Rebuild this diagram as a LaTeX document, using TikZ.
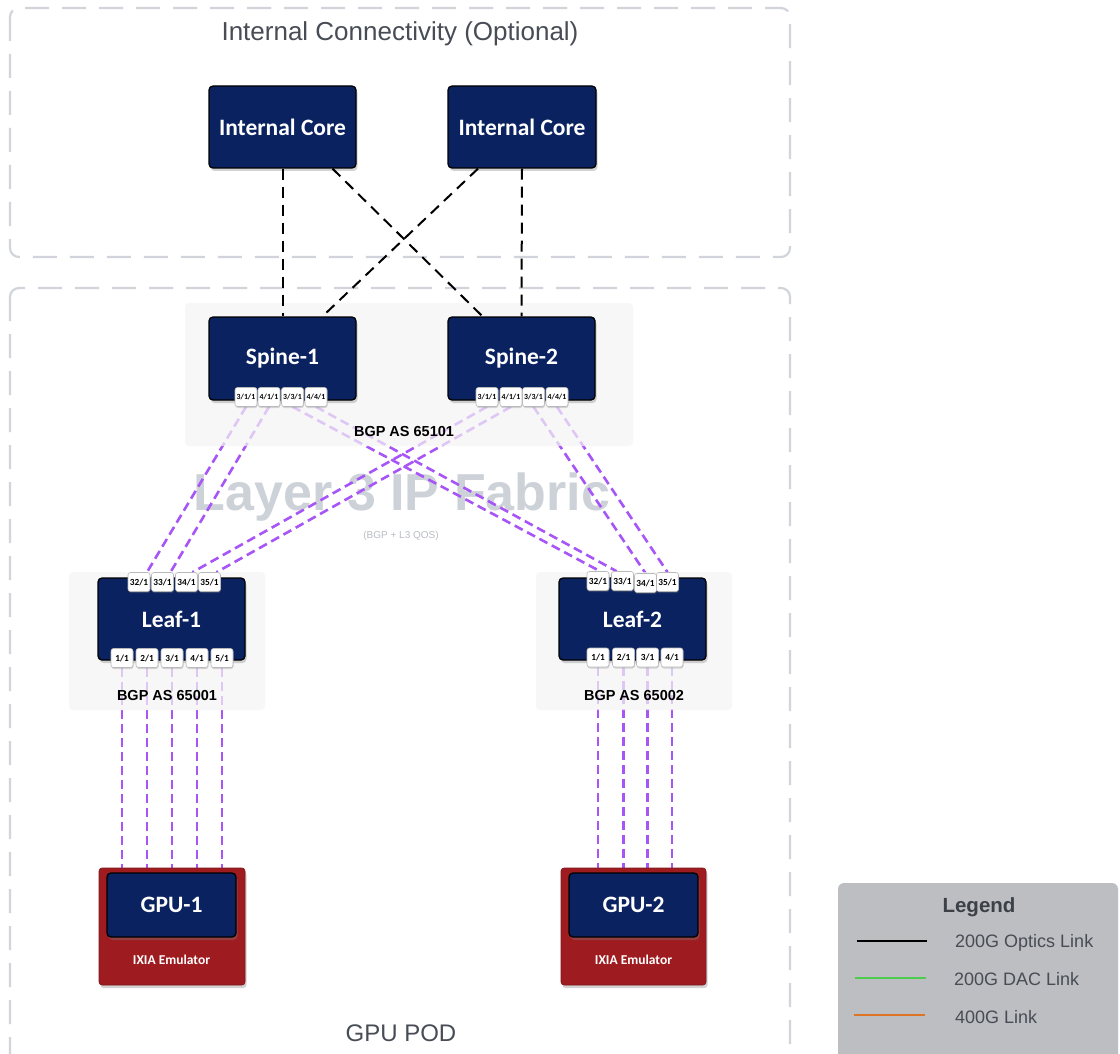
\documentclass[tikz,border=0pt]{standalone}
\usepackage{fontspec}
\setmainfont{Liberation Sans}
\newfontfamily\cfont{Carlito}
\usetikzlibrary{shadows}
\definecolor{navy}{HTML}{0A2260}
\definecolor{gpured}{HTML}{9E1B20}
\definecolor{purp}{HTML}{A855F7}
\definecolor{frame}{HTML}{D1D5DB}
\definecolor{txtgray}{HTML}{474C55}
\definecolor{fabgray}{HTML}{CDD2D9}
\definecolor{panel}{HTML}{F4F4F4}
\definecolor{legbg}{HTML}{BDBEC2}
\definecolor{leggreen}{HTML}{4CCB4C}
\definecolor{legorange}{HTML}{DD7426}
\pgfdeclarelayer{bg}
\pgfdeclarelayer{links}
\pgfdeclarelayer{panels}
\pgfsetlayers{bg,links,panels,main}
\tikzset{
  device/.style={draw=black, line width=1.3pt, fill=navy, rounded corners=4pt, text=white,
    font=\cfont\bfseries\fontsize{23.5}{27}\selectfont, inner sep=0pt,
    drop shadow={shadow xshift=1.5pt, shadow yshift=-3pt, opacity=0.35}},
  port/.style={draw=gray!55, line width=0.6pt, fill=white, rounded corners=2.5pt,
    minimum width=22pt, minimum height=19pt, inner sep=0pt,
    font=\cfont\bfseries\fontsize{7.8}{8}\selectfont,
    drop shadow={shadow xshift=0.5pt, shadow yshift=-1.5pt, opacity=0.3}},
  lport/.style={port, font=\cfont\bfseries\fontsize{9.3}{10}\selectfont},
  container/.style={draw=frame, line width=2.2pt, rounded corners=9pt, dash pattern=on 24pt off 13pt},
  link/.style={draw=purp, line width=2.6pt, dash pattern=on 9pt off 5pt},
  corelink/.style={draw=black, line width=2pt, dash pattern=on 11pt off 7pt},
  panelbox/.style={fill=panel, fill opacity=0.72, draw=none, rounded corners=4pt},
  bgplabel/.style={font=\bfseries\fontsize{14.5}{16}\selectfont, text=black},
  gpubox/.style={fill=gpured, draw=gpured!80!black, line width=0.6pt, rounded corners=3pt,
    drop shadow={shadow xshift=1.5pt, shadow yshift=-3pt, opacity=0.35}},
  legtext/.style={anchor=west, font=\fontsize{18}{21}\selectfont, text=txtgray, inner sep=0pt}
}
\begin{document}
\begin{tikzpicture}[x=1pt,y=-1pt]
\useasboundingbox (0,0) rectangle (1120,1054);

% ---------- background layer ----------
\begin{pgfonlayer}{bg}
  \fill[white] (0,0) rectangle (1120,1054);
  \draw[container] (10,8) rectangle (790,257);
  \draw[container] (10,288) rectangle (790,1080);
  \node[font=\fontsize{26}{30}\selectfont, text=txtgray] (ttl) at (400,34) {Internal Connectivity (Optional)};
  \node[font=\fontsize{24}{28}\selectfont, text=txtgray] (pod) at (401,1033) {GPU POD};
  \node[font=\bfseries\fontsize{52}{60}\selectfont, text=fabgray] (fab) at (402,497) {Layer 3 IP Fabric};
  \node[font=\fontsize{10}{12}\selectfont, text=fabgray!90!black] (qos) at (401,536) {(BGP + L3 QOS)};
\end{pgfonlayer}

% ---------- panels ----------
\begin{pgfonlayer}{panels}
  \path[panelbox] (185,303) rectangle (633,446);
  \path[panelbox] (69,572) rectangle (265,710);
  \path[panelbox] (536,572) rectangle (732,710);
\end{pgfonlayer}

% ---------- devices ----------
\node[device, minimum width=147pt, minimum height=82pt] (core1) at (282.5,127) {Internal Core};
\node[device, minimum width=148pt, minimum height=82pt] (core2) at (522,127) {Internal Core};
\node[device, minimum width=147pt, minimum height=83pt] (sp1) at (282.5,358.5) {Spine-1};
\node[device, minimum width=147pt, minimum height=83pt] (sp2) at (521.5,358.5) {Spine-2};
\node[device, minimum width=147pt, minimum height=82pt] (lf1) at (171.5,619) {Leaf-1};
\node[device, minimum width=147pt, minimum height=82pt] (lf2) at (632.5,619) {Leaf-2};

\node[gpubox, minimum width=146pt, minimum height=117pt] (gpu1) at (172,926.5) {};
\node[gpubox, minimum width=145pt, minimum height=117pt] (gpu2) at (633.5,926.5) {};
\node[device, minimum width=129pt, minimum height=64pt] (g1) at (171.5,905) {GPU-1};
\node[device, minimum width=129pt, minimum height=64pt] (g2) at (633.5,905) {GPU-2};
\node[text=white, font=\cfont\bfseries\fontsize{13.5}{15}\selectfont] (ixia1) at (171.5,960) {IXIA Emulator};
\node[text=white, font=\cfont\bfseries\fontsize{13.5}{15}\selectfont] (ixia2) at (633.5,960) {IXIA Emulator};

% spine ports
\node[port] (s1a) at (246,397) {3/1/1};
\node[port] (s1b) at (269,397) {4/1/1};
\node[port] (s1c) at (292.5,397) {3/3/1};
\node[port] (s1d) at (316,397) {4/4/1};
\node[port] (s2a) at (487,397) {3/1/1};
\node[port] (s2b) at (511,397) {4/1/1};
\node[port] (s2c) at (533.5,397) {3/3/1};
\node[port] (s2d) at (557,397) {4/4/1};

% leaf top ports
\node[lport] (l1a) at (139,582) {32/1};
\node[lport] (l1b) at (162.5,582) {33/1};
\node[lport] (l1c) at (186.5,582) {34/1};
\node[lport] (l1d) at (209.5,582) {35/1};
\node[lport] (l2a) at (598,581) {32/1};
\node[lport] (l2b) at (622.5,581) {33/1};
\node[lport] (l2c) at (645.5,583) {34/1};
\node[lport] (l2d) at (667.5,582) {35/1};

% leaf bottom ports
\node[lport] (m1a) at (122,658) {1/1};
\node[lport] (m1b) at (147,658) {2/1};
\node[lport] (m1c) at (172,658) {3/1};
\node[lport] (m1d) at (197,658) {4/1};
\node[lport] (m1e) at (222,658) {5/1};
\node[lport] (m2a) at (598,657.5) {1/1};
\node[lport] (m2b) at (623.5,657.5) {2/1};
\node[lport] (m2c) at (647.5,657.5) {3/1};
\node[lport] (m2d) at (672,657.5) {4/1};

% BGP labels
\node[bgplabel] (bgp0) at (404,432) {BGP AS 65101};
\node[bgplabel] (bgp1) at (167,696) {BGP AS 65001};
\node[bgplabel] (bgp2) at (634,696) {BGP AS 65002};

% ---------- core links (black dashed) ----------
\draw[corelink] (core1.south) -- (sp1.north);
\draw[corelink] (core2.south) -- (sp2.north);
\draw[corelink] ([xshift=50pt]core1.south) -- ([xshift=-39pt]sp2.north);
\draw[corelink] ([xshift=-44pt]core2.south) -- ([xshift=40pt]sp1.north);

% ---------- purple links ----------
\begin{pgfonlayer}{links}
  \draw[link] (s1a.south) -- ([xshift=8pt]l1a.north);
  \draw[link] (s1b.south) -- ([xshift=8pt]l1b.north);
  \draw[link] (s2a.south) -- ([xshift=6pt]l1c.north);
  \draw[link] (s2b.south) -- ([xshift=7pt]l1d.north);
  \draw[link] (s1c.south) -- ([xshift=2pt]l2a.north);
  \draw[link] (s1d.south) -- ([xshift=-6pt]l2b.north);
  \draw[link] (s2c.south) -- (l2c.north);
  \draw[link] (s2d.south) -- (l2d.north);
  \foreach \p in {m1a,m1b,m1c,m1d,m1e}{
    \draw[link] (\p.south) -- (\p.south |- gpu1.north);
  }
  \foreach \p in {m2a,m2b,m2c,m2d}{
    \draw[link] (\p.south) -- (\p.south |- gpu2.north);
  }
\end{pgfonlayer}

% ---------- legend ----------
\path[fill=legbg, rounded corners=6pt] (838,883) rectangle (1118,1075);
\node[font=\bfseries\fontsize{20.5}{24}\selectfont, text=txtgray!85!black] (leg) at (979,907) {Legend};
\coordinate (k1a) at (857,941); \coordinate (k1b) at (927,941);
\coordinate (k2a) at (855,978); \coordinate (k2b) at (926,978);
\coordinate (k3a) at (854,1015); \coordinate (k3b) at (925,1015);
\draw[black, line width=2.5pt] (k1a) -- (k1b);
\draw[leggreen, line width=2.5pt] (k2a) -- (k2b);
\draw[legorange, line width=2.5pt] (k3a) -- (k3b);
\node[legtext] (lt1) at (955,943) {200G Optics Link};
\node[legtext] (lt2) at (954,979) {200G DAC Link};
\node[legtext] (lt3) at (955,1017) {400G Link};
\end{tikzpicture}
\end{document}
